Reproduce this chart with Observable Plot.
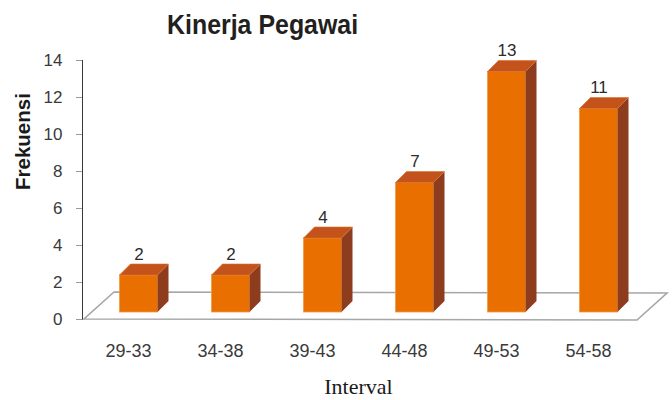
<!DOCTYPE html>
<html>
<head>
<meta charset="utf-8">
<script src="https://cdn.jsdelivr.net/npm/d3@7"></script>
<script src="https://cdn.jsdelivr.net/npm/@observablehq/plot@0.6"></script>
<style>
  html, body { margin: 0; padding: 0; background: #fff; }
  #title { height: 38px; overflow: visible; padding: 0; position: relative; z-index: 2; }
  #title span { display: inline-block; margin-left: 167px; padding-top: 11px; font: bold 28px "Liberation Sans", Arial, sans-serif; line-height: 28px; color: #231f20; transform: scaleX(0.89); transform-origin: left top; }
  #chart svg { display: block; background: transparent; }
</style>
</head>
<body>
<div id="title"><span>Kinerja Pegawai</span></div>
<div id="chart"></div>
<script>
// ---- data ----
const intervals = ["29-33", "34-38", "39-43", "44-48", "49-53", "54-58"];
const frequencies = [2, 2, 4, 7, 13, 11];
const yTicks = [0, 2, 4, 6, 8, 10, 12, 14];
const xTitle = "Interval";
const yTitle = "Frekuensi";

const table = intervals.map((k, i) => ({interval: k, freq: frequencies[i]}));

// ---- style ----
const frontColor = "#e86f00";
const topColor = "#c3531b";
const sideColor = "#8d3c1d";
const insetL = 37.5, insetR = 16.5; // front face inside band
const lift = 7;     // bars raised above the floor's front edge
const depth = 11;   // bar depth in px
const floorDX = 30, floorDY = 27;

function floor(index, {x, y}) {
  const [r0, r1] = x.range();
  const y0 = y(0);
  const g = d3.create("svg:g");
  g.append("polygon")
    .attr("points", [[r0 + 2, y0], [r1 + 3, y0 + 1], [r1 + 3 + floorDX, y0 + 1 - floorDY], [r0 + 2 + floorDX, y0 - floorDY]].map(p => p.join(",")).join(" "))
    .attr("fill", "#fff").attr("stroke", "#a6a6a6").attr("stroke-width", 1.6);
  return g.node();
}

function faces(index, {x, y}) {
  const g = d3.create("svg:g");
  const bw = x.bandwidth();
  table.forEach(d => {
    const xl = x(d.interval) + insetL, xr = x(d.interval) + bw - insetR;
    const top = y(d.freq) - lift, bot = y(0) - lift;
    g.append("polygon")
      .attr("points", [[xr, top], [xr + depth, top - depth], [xr + depth, bot - depth], [xr, bot]].map(p => p.join(",")).join(" "))
      .attr("fill", sideColor);
    g.append("polygon")
      .attr("points", [[xl, top], [xr, top], [xr + depth, top - depth], [xl + depth, top - depth]].map(p => p.join(",")).join(" "))
      .attr("fill", topColor).attr("stroke", "#d9702e").attr("stroke-width", 0.6);
  });
  return g.node();
}

const chart = Plot.plot({
  width: 672,
  height: 362,
  marginLeft: 82,
  marginRight: 38,
  marginTop: 22,
  marginBottom: 81,
  style: {background: "transparent", color: "#3a3a3a", fontFamily: "'Liberation Sans', Arial, sans-serif"},
  x: {domain: intervals, padding: 0, label: null, tickSize: 0, tickPadding: 25},
  y: {domain: [0, 14], ticks: yTicks, label: null, tickSize: 6, tickPadding: 14, line: true},
  marks: [
    floor,
    Plot.barY(table, {x: "interval", y: "freq", fill: frontColor, stroke: "#f39a45", strokeWidth: 0.8, insetLeft: insetL, insetRight: insetR, dy: -lift}),
    faces,
    Plot.text(table, {x: "interval", y: "freq", text: d => String(d.freq), dx: (insetL - insetR) / 2, dy: -(lift + 16), lineAnchor: "bottom", fontSize: 17, fill: "#2b2b2b"}),
    Plot.text([xTitle], {frameAnchor: "bottom", dy: 74, lineAnchor: "bottom", fontSize: 22, fontFamily: "'Liberation Serif', 'Times New Roman', serif", fill: "#1a1a1a"}),
    Plot.text([yTitle], {frameAnchor: "left", dx: -53, rotate: -90, lineAnchor: "bottom", fontSize: 20.5, fontWeight: "bold", fill: "#1a1a1a"})
  ]
});

document.getElementById("chart").appendChild(chart);
// axis styling
d3.select(chart).selectAll('[aria-label="x-axis tick label"] text, [aria-label="x-axis tick label"]').style("font-size", "18px");
d3.select(chart).selectAll('[aria-label="y-axis tick label"]').style("font-size", "17px");
d3.select(chart).selectAll('[aria-label="y-axis tick"], [aria-label="y-axis line"], [aria-label="y-axis tick"] path').attr("stroke", "#9a9a9a");
</script>
</body>
</html>
